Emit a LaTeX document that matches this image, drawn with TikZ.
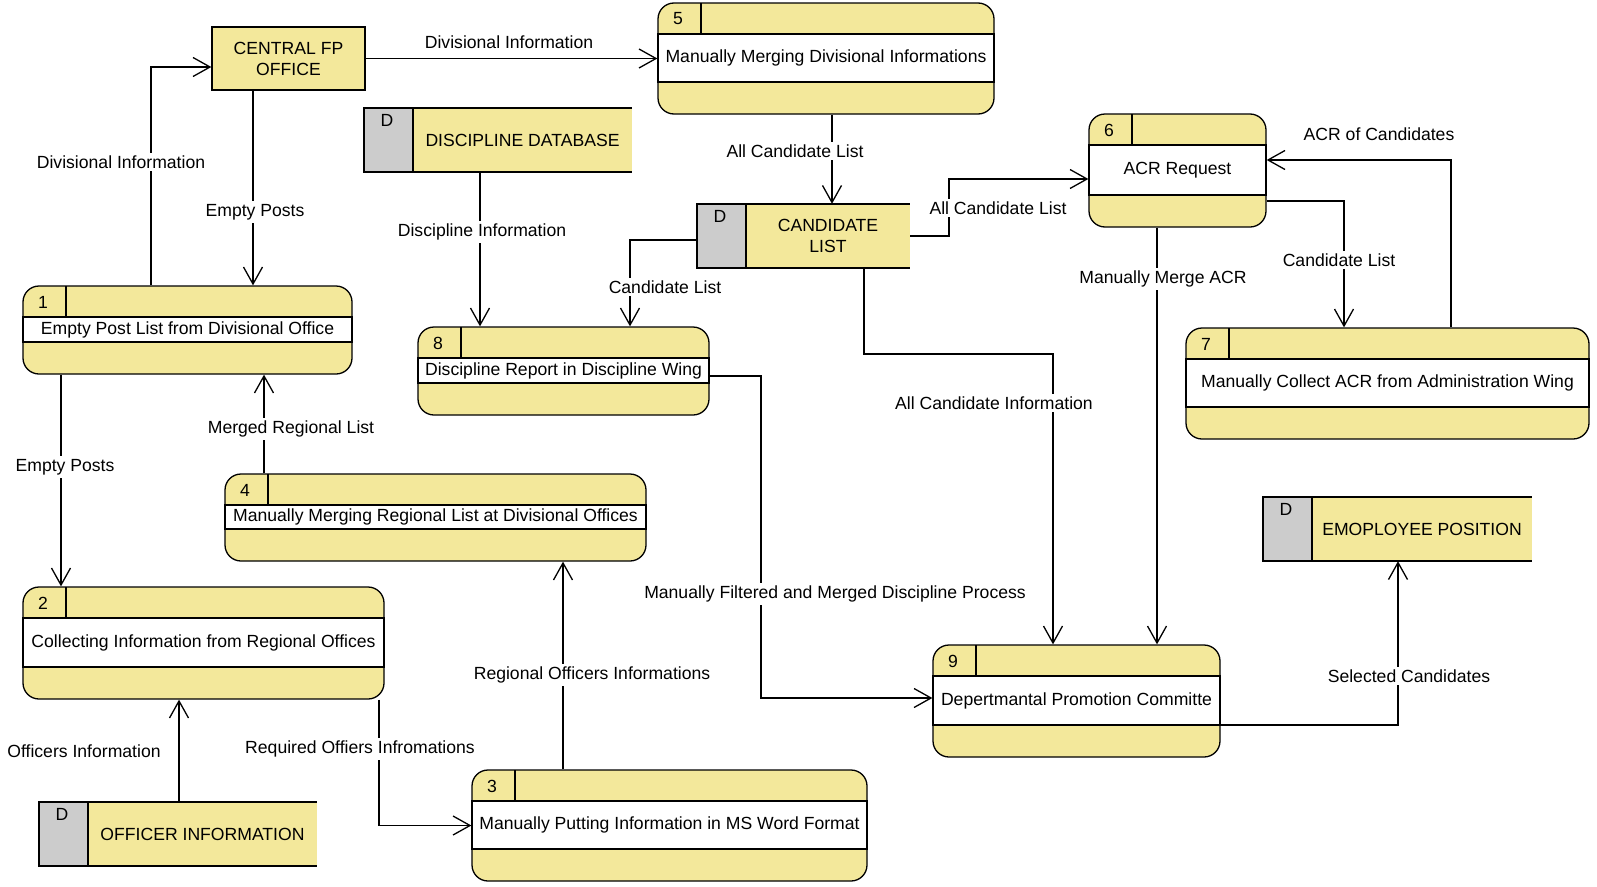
\documentclass[tikz,border=0pt]{standalone}
\usepackage{fontspec}
\setmainfont{Liberation Sans}
\usetikzlibrary{arrows.meta,fit,calc}
\definecolor{dfdyellow}{RGB}{243, 232, 155}
\definecolor{dfdgray}{RGB}{204, 204, 204}

\tikzset{
  procbox/.style={draw, fill=dfdyellow, rounded corners=16pt, inner sep=0pt, line width=1.3pt},
  storebox/.style={fill=dfdyellow, inner sep=0pt},
  lbl/.style={fill=white, inner sep=3pt, font=\fontsize{17.6}{20}\selectfont},
  boxtext/.style={inner sep=0pt, align=center, font=\fontsize{17.6}{21}\selectfont},
  flow/.style={line width=1.3pt, -{Straight Barb[length=17pt,width=19pt,line width=1.3pt]}}
}

% process: name, x1, y1, x2, y2, number, text
\newcommand{\dfdproc}[7]{%
  \node[procbox, fit={(#2,#3) (#4,#5)}] (#1) {};
  \draw[line width=1.3pt, fill=white] (#2,#3+31) rectangle (#4,#5-32);
  \draw[line width=1.3pt] (#2+43,#3) -- (#2+43,#3+31);
  \node[boxtext] (#1-num) at (#2+20,#3+16) {#6};
  \node[boxtext] (#1-txt) at ($(#2,#3+31)!0.5!(#4,#5-32)$) {#7};
}
% data store: name, x1, y1, x2, y2, text
\newcommand{\dfdstore}[6]{%
  \node[storebox, fit={(#2,#3) (#4,#5)}] (#1) {};
  \draw[line width=1.3pt, fill=dfdgray] (#2,#3) rectangle (#2+49,#5);
  \draw[line width=1.3pt] (#2+49,#3) -- (#4,#3);
  \draw[line width=1.3pt] (#2+49,#5) -- (#4,#5);
  \node[boxtext] (#1-d) at (#2+23,#3+12) {D};
  \node[boxtext] (#1-txt) at ($(#2+49,#3)!0.5!(#4,#5)$) {#6};
}

\begin{document}
\begin{tikzpicture}[x=1pt, y=-1pt]
  \useasboundingbox (0,0) rectangle (1597,886);

  % central office
  \node[draw, fill=dfdyellow, line width=1.3pt, inner sep=0pt, fit={(212,27) (365,90)}] (cfp) {};
  \node[boxtext] (cfp-txt) at (cfp.center) {CENTRAL FP\\OFFICE};

  % processes
  \dfdproc{p1}{23}{286}{352}{374}{1}{Empty Post List from Divisional Office}
  \dfdproc{p2}{23}{587}{384}{699}{2}{Collecting Information from Regional Offices}
  \dfdproc{p3}{472}{770}{867}{881}{3}{Manually Putting Information in MS Word Format}
  \dfdproc{p4}{225}{474}{646}{561}{4}{Manually Merging Regional List at Divisional Offices}
  \dfdproc{p5}{658}{3}{994}{114}{5}{Manually Merging Divisional Informations}
  \dfdproc{p6}{1089}{114}{1266}{227}{6}{ACR Request}
  \dfdproc{p7}{1186}{328}{1589}{439}{7}{Manually Collect ACR from Administration Wing}
  \dfdproc{p8}{418}{327}{709}{415}{8}{Discipline Report in Discipline Wing}
  \dfdproc{p9}{933}{645}{1220}{757}{9}{Depertmantal Promotion Committe}

  % data stores
  \dfdstore{dd}{364}{108}{632}{172}{DISCIPLINE DATABASE}
  \dfdstore{cl}{697}{204}{910}{268}{CANDIDATE\\LIST}
  \dfdstore{oi}{39}{802}{317}{866}{OFFICER INFORMATION}
  \dfdstore{ep}{1263}{497}{1532}{561}{EMOPLOYEE POSITION}

  % flows
  \draw[flow] (151,0 |- p1.north) |- (cfp.west |- 0,67);
  \draw[flow] (253,0 |- cfp.south) -- (253,0 |- p1.north);
  \draw[flow] (cfp.east) -- (cfp.east -| p5.west);
  \draw[flow] (832,0 |- p5.south) -- (832,0 |- cl.north);
  \draw[flow] (cl.east) -- (949,236) |- (p6.west |- 0,179);
  \draw[flow] (cl.west |- 0,240) -| (630,0 |- p8.north);
  \draw[flow] (480,0 |- dd.south) -- (480,0 |- p8.north);
  \draw[flow] (864,0 |- cl.south) |- (1053,354) -- (1053,0 |- p9.north);
  \draw[flow] (1157,0 |- p6.south) -- (1157,0 |- p9.north);
  \draw[flow] (p6.east |- 0,201) -| (1344,0 |- p7.north);
  \draw[flow] (1451,0 |- p7.north) |- (p6.east |- 0,160);
  \draw[flow] (p8.east |- 0,376) -- (761,376) |- (p9.west |- 0,698);
  \draw[flow] (p9.east |- 0,725) -| (1398,0 |- ep.south);
  \draw[flow] (61,0 |- p1.south) -- (61,0 |- p2.north);
  \draw[flow] (264,0 |- p4.north) -- (264,0 |- p1.south);
  \draw[flow] (563,0 |- p3.north) -- (563,0 |- p4.south);
  \draw[flow] (379,0 |- p2.south) |- (p3.west);
  \draw[flow] (179,0 |- oi.north) -- (179,0 |- p2.south);

  % flow labels
  \node[lbl] (l1) at (121,162) {Divisional Information};
  \node[lbl] (l2) at (255,212) {Empty Posts};
  \node[lbl] (l3) at (509,42) {Divisional Information};
  \node[lbl] (l4) at (795,151) {All Candidate List};
  \node[lbl] (l5) at (482,232) {Discipline Information};
  \node[lbl] (l6) at (998,208) {All Candidate List};
  \node[lbl] (l7) at (665,287) {Candidate List};
  \node[lbl] (l8) at (1379,134) {ACR of Candidates};
  \node[lbl] (l9) at (1339,260) {Candidate List};
  \node[lbl] (l10) at (1163,279) {Manually Merge ACR};
  \node[lbl] (l11) at (994,403) {All Candidate Information};
  \node[lbl] (l12) at (291,429) {Merged Regional List};
  \node[lbl] (l13) at (65,467) {Empty Posts};
  \node[lbl] (l14) at (835,594) {Manually Filtered and Merged Discipline Process};
  \node[lbl] (l15) at (592,675) {Regional Officers Informations};
  \node[lbl] (l16) at (1409,676) {Selected Candidates};
  \node[lbl] (l17) at (360,749) {Required Offiers Infromations};
  \node[lbl] (l18) at (84,751) {Officers Information};
\end{tikzpicture}
\end{document}
